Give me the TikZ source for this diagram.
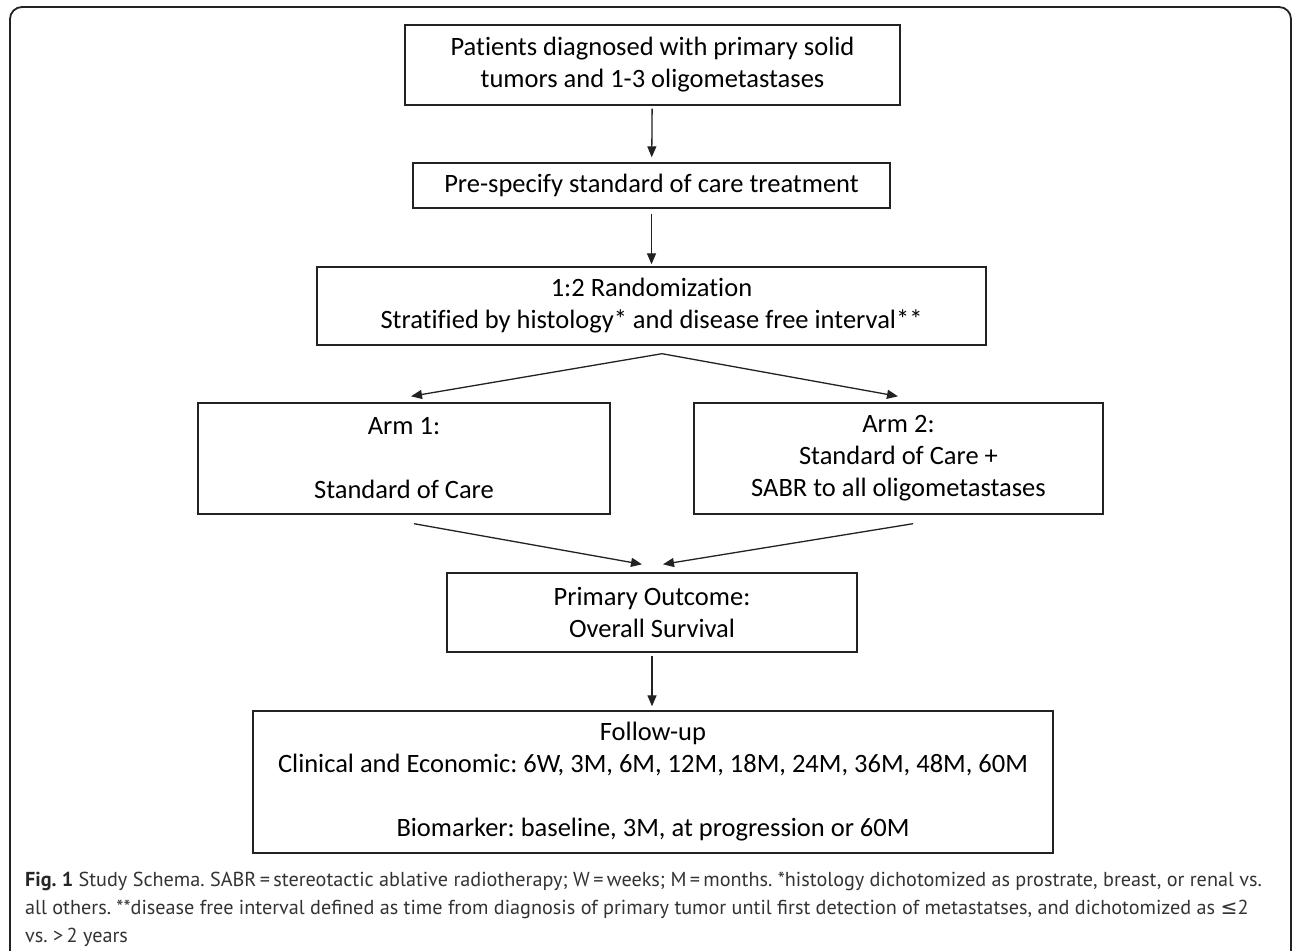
\documentclass[tikz,border=0pt]{standalone}
\usepackage{fontspec}
\setmainfont{Carlito}[Ligatures={NoCommon}]
\newfontfamily\capfont{PT Sans}
\newfontfamily\symfont{DejaVu Sans}
\usetikzlibrary{arrows.meta,calc}
\definecolor{ink}{HTML}{222222}
\definecolor{captext}{HTML}{333333}
\frenchspacing
\begin{document}
\begin{tikzpicture}[x=1pt,y=-1pt,
  box/.style={draw=ink,line width=1.4pt,align=center,inner sep=0pt,
    font=\fontsize{26.5}{32}\selectfont,text=black},
  arr/.style={draw=ink,line width=1.3pt,-{Triangle[length=11pt,width=9pt]}},
  captxt/.style={anchor=base west,inner sep=0pt,text=captext,
    font=\capfont\fontsize{20.2}{28}\selectfont}]
\fill[white] (0,0) rectangle (1292,950);
\useasboundingbox (0,0) rectangle (1292,950);
% outer frame
\draw[ink,line width=1.8pt,rounded corners=12pt]
  (10,952) -- (10,7) -- (1291,7) -- (1291,952);
% boxes
\node[box,minimum width=495pt,minimum height=80pt] (b1) at (652.5,65)
  {Patients diagnosed with primary solid\\tumors and 1-3 oligometastases};
\node[box,minimum width=477pt,minimum height=45pt] (b2) at (651.5,185.5)
  {Pre-specify standard of care treatment};
\node[box,minimum width=669pt,minimum height=78pt] (b3) at (651.5,306)
  {1:2 Randomization\\Stratified by histology* and disease free interval**};
\node[box,minimum width=412pt,minimum height=111pt] (arm1) at (404,458.5)
  {Arm 1:\\\mbox{}\\Standard of Care};
\node[box,minimum width=409pt,minimum height=111pt] (arm2) at (898.5,458.5)
  {Arm 2:\\Standard of Care +\\SABR to all oligometastases};
\node[box,minimum width=410pt,minimum height=79pt] (out) at (652,612.5)
  {Primary Outcome:\\Overall Survival};
\node[box,minimum width=800pt,minimum height=142pt] (fu) at (653,782)
  {Follow-up\\Clinical and Economic: 6W, 3M, 6M, 12M, 18M, 24M, 36M, 48M, 60M\\\mbox{}\\Biomarker: baseline, 3M, at progression or 60M};
% connectors
\draw[arr,shorten <=3pt,shorten >=5pt] (b1) -- (b2);
\draw[arr,shorten <=5pt,shorten >=2pt] (b2.south) -- (b2.south|-b3.north);
\coordinate (split) at ($(b3.south)+(10.5,8)$);
\draw[arr] (split) -- ([xshift=7pt,yshift=6pt]arm1.north);
\draw[arr] (split) -- ([xshift=-0.5pt,yshift=6pt]arm2.north);
\draw[arr] ([xshift=10pt,yshift=-9pt]arm1.south) -- ([xshift=-10pt,yshift=8pt]out.north);
\draw[arr] ([xshift=14.5pt,yshift=-9pt]arm2.south) -- ([xshift=11pt,yshift=8pt]out.north);
\draw[arr,shorten <=3pt,shorten >=4pt] (out.south) -- (out.south|-fu.north);
% caption
\node[captxt] (c1) at (25,886) {{\bfseries\color{black!85}Fig. 1} Study Schema. SABR\,=\,stereotactic ablative radiotherapy; W\,=\,weeks; M\,=\,months. *histology dichotomized as prostrate, breast, or renal vs.};
\node[captxt] (c2) at (25,914) {all others. **disease free interval defined as time from diagnosis of primary tumor until first detection of metastatses, and dichotomized as {\symfont ≤}2};
\node[captxt] (c3) at (25,942) {vs.\ >\,2 years};
\end{tikzpicture}
\end{document}
